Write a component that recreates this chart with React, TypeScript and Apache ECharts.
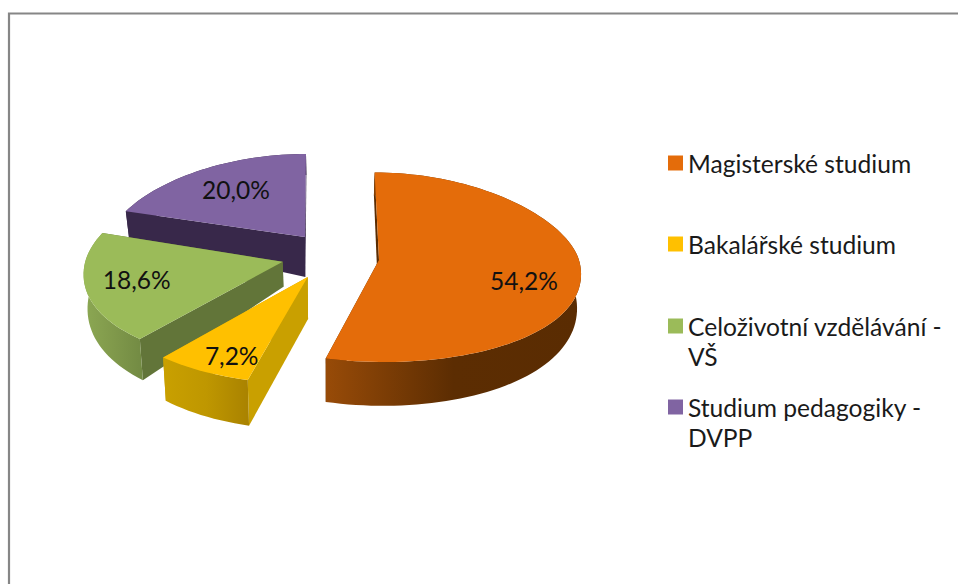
import React, { useEffect, useRef } from "react";
import * as echarts from "echarts";

const categories = ["Magisterské studium", "Bakalářské studium", "Celoživotní vzdělávání - VŠ", "Studium pedagogiky - DVPP"];
const shares = [54.2, 7.2, 18.6, 20.0];
const topColors = ["#e46c0a", "#ffc000", "#9bbb59", "#8064a2"];

// Excel-like 3D look of each exploded slice (layout only, angles come from the shares)
const looks = [
  { ax: 379, ay: 260, rx: 200, ryT: 87.5, ryB: 102, s: 0.05, apexT: 38, wall: "#5a2c02", rim: ["#984b08", "#5c2d02", "#5a2c02"], lx: 145, ly: 20, z: 2 },
  { ax: 307.7, ay: 277, rx: 200, ryT: 90, ryB: 106.6, s: -0.017, apexT: 42, wall: "#c9a000", rim: ["#c9a000", "#bf9700", "#a98200"], lx: -76, ly: 78, z: 4 },
  { ax: 282.7, ay: 261.7, rx: 197.5, ryT: 92.9, ryB: 102.4, s: -0.019, apexT: 25, wall: "#627539", rim: ["#8ca853", "#80994b", "#728a43"], lx: -146, ly: 18, z: 3 },
  { ax: 305, ay: 237, rx: 196, ryT: 83, ryB: 90, s: -0.012, apexT: 40, wall: "#38284a", rim: ["#38284a", "#38284a", "#38284a"], lx: -69, ly: -48, z: 1 },
];
const legendCenters = [164, 245, 327, 408];
const P = 0.12;
const X0 = 330;

function thick(y: number) {
  return 27 + (y - 209) * 0.11;
}
function drop(p: number[], t: number) {
  return [p[0] + (X0 - p[0]) * 0.016, p[1] + t];
}
function rimPoint(k: any, deg: number) {
  const a = (deg * Math.PI) / 180;
  const v = -Math.cos(a);
  const dy = v * (v < 0 ? k.ryT : k.ryB);
  const dx = k.rx * Math.sin(a) * (1 + P * v) + k.s * dy;
  return [k.ax + dx, k.ay + dy];
}

function makeRender(i: number) {
  const k = looks[i];
  return (_p: any, api: any) => {
    const value = api.value(0);
    const start = (api.value(1) / 100) * 360;
    const end = start + (value / 100) * 360;
    const n = Math.max(12, Math.round((end - start) / 2));
    const rim: number[][] = [];
    for (let j = 0; j <= n; j++) rim.push(rimPoint(k, start + ((end - start) * j) / n));
    const apex = [k.ax, k.ay];
    const apexB = drop(apex, k.apexT);
    const rimB = rim.map((p) => drop(p, thick(p[1])));
    const first = rim[0];
    const last = rim[n];
    const poly = (points: number[][], fill: any) => ({ type: "polygon", silent: true, shape: { points }, style: { fill } });
    return {
      type: "group",
      children: [
        poly([apex, last, rimB[n], apexB], k.wall),
        poly([apex, first, rimB[0], apexB], k.wall),
        poly(
          [...rim, ...rimB.slice().reverse()],
          new echarts.graphic.LinearGradient(0, 0, 1, 0, [
            { offset: 0, color: k.rim[0] },
            { offset: 0.5, color: k.rim[1] },
            { offset: 1, color: k.rim[2] },
          ])
        ),
        poly([apex, ...rim], topColors[i]),
        {
          type: "text",
          silent: true,
          x: k.ax + k.lx,
          y: k.ay + k.ly,
          style: {
            text: value.toFixed(1).replace(".", ",") + "%",
            fill: "#111111",
            font: "24.5px Lato",
            align: "center",
            verticalAlign: "middle",
          },
        },
      ],
    };
  };
}

export default function App() {
  const ref = useRef<HTMLDivElement>(null);
  useEffect(() => {
    document.body.style.margin = "0";
    const chart = echarts.init(ref.current!, null, { renderer: "svg" });
    let acc = 0;
    const series = categories.map((name, i) => {
      const s = {
        type: "custom",
        name,
        coordinateSystem: "none",
        z: looks[i].z,
        itemStyle: { color: topColors[i] },
        renderItem: makeRender(i),
        data: [[shares[i], acc]],
      };
      acc += shares[i];
      return s;
    });
    const legend = categories.map((name, i) => {
      const parts = name.split(" - ");
      const wrapped = parts.length > 1;
      return {
        data: [name],
        left: 668,
        padding: 0,
        top: legendCenters[i] - (wrapped ? 45 : 15) - 1,
        selectedMode: false,
        itemWidth: 15,
        itemHeight: 15,
        icon: "rect",
        textStyle: { fontFamily: "Lato", fontSize: 24.6, color: "#1a1a1a", lineHeight: 30 },
        formatter: () => (wrapped ? `\n${parts[0]} -\n${parts[1]}` : name),
      };
    });
    chart.setOption({
      animation: false,
      backgroundColor: "#ffffff",
      graphic: [
        {
          type: "rect",
          silent: true,
          z: 0,
          shape: { x: 9, y: 13.5, width: 1400, height: 1000 },
          style: { fill: "none", stroke: "#868686", lineWidth: 2.2 },
        },
      ],
      legend,
      series,
    });
    return () => chart.dispose();
  }, []);
  return <div ref={ref} style={{ position: "fixed", left: 0, top: 0, width: 958, height: 584 }} />;
}
